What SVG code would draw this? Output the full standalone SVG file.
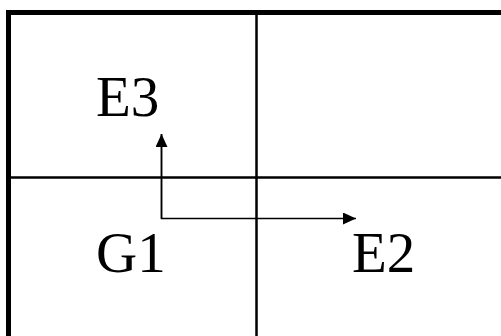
<svg xmlns="http://www.w3.org/2000/svg" width="501" height="336" viewBox="0 0 501 336">
<style>
.lbl{font-family:"Liberation Serif","Times New Roman",serif;font-size:57px;fill:#000}
.grid{stroke:#000;stroke-width:2.5;fill:none}
.conn{stroke:#000;stroke-width:1.5;fill:none}
</style>
<defs>
<marker id="ah" viewBox="0 0 13 12" refX="13" refY="6" markerWidth="13" markerHeight="12" markerUnits="userSpaceOnUse" orient="auto">
<path d="M0,0 L13,6 L0,12 Z" fill="#000"/>
</marker>
</defs>
<rect width="501" height="336" fill="#fff"/>
<g id="frame">
<rect x="8.5" y="12.5" width="520" height="340" fill="none" stroke="#000" stroke-width="5"/>
<line class="grid" x1="256.5" y1="12" x2="256.5" y2="336"/>
<line class="grid" x1="8" y1="177.5" x2="501" y2="177.5"/>
</g>
<g id="E3"><text class="lbl" x="96" y="116">E3</text></g>
<g id="G1"><text class="lbl" x="96" y="272">G1</text></g>
<g id="E2"><text class="lbl" x="352" y="272">E2</text></g>
<g id="connectors">
<polyline class="conn" points="161.5,134 161.5,218.5 356,218.5" marker-end="url(#ah)"/>
<line class="conn" x1="161.5" y1="218.5" x2="161.5" y2="134" marker-end="url(#ah)"/>
</g>
</svg>
